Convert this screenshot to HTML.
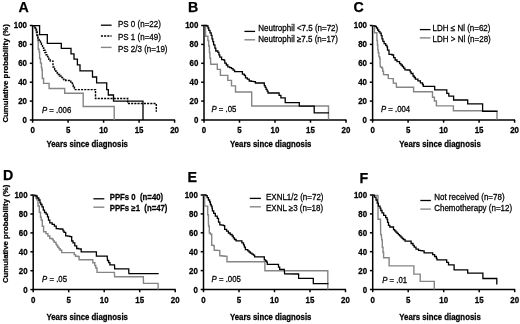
<!DOCTYPE html><html><head><meta charset="utf-8"><style>
html,body{margin:0;padding:0;background:#fff;width:520px;height:324px;overflow:hidden}
svg{display:block;filter:blur(0.4px)} text{font-family:"Liberation Sans", sans-serif;stroke:#000;stroke-width:0.25px}
.ax{stroke:#000;stroke-width:1.5;fill:none}
.tl{font-size:7.9px;font-weight:bold;fill:#000}
.tt{font-size:7.8px;font-weight:bold;fill:#000}
.lg{font-size:8px;fill:#000}
.lgb{font-size:7.8px;font-weight:bold;fill:#000;white-space:pre}
.pv{font-size:7.8px;fill:#000}
.let{font-size:14.2px;font-weight:bold;fill:#000}
.k{stroke:#000;stroke-width:1.3;fill:none}
.g{stroke:#858585;stroke-width:1.4;fill:none}
.d{stroke:#000;stroke-width:1.45;fill:none;stroke-dasharray:2.1 1.1}
</style></head><body>
<svg width="520" height="324" viewBox="0 0 520 324">
<rect width="520" height="324" fill="#fff"/>
<line x1="32.60" y1="25.00" x2="32.60" y2="120.70" class="ax"/>
<line x1="31.90" y1="120.00" x2="175.10" y2="120.00" class="ax"/>
<line x1="29.80" y1="120.00" x2="32.60" y2="120.00" class="ax"/>
<text transform="translate(27.00 122.90) scale(1 1.08)" class="tl" text-anchor="end">0</text>
<line x1="29.80" y1="101.10" x2="32.60" y2="101.10" class="ax"/>
<text transform="translate(27.00 104.00) scale(1 1.08)" class="tl" text-anchor="end">20</text>
<line x1="29.80" y1="82.20" x2="32.60" y2="82.20" class="ax"/>
<text transform="translate(27.00 85.10) scale(1 1.08)" class="tl" text-anchor="end">40</text>
<line x1="29.80" y1="63.30" x2="32.60" y2="63.30" class="ax"/>
<text transform="translate(27.00 66.20) scale(1 1.08)" class="tl" text-anchor="end">60</text>
<line x1="29.80" y1="44.40" x2="32.60" y2="44.40" class="ax"/>
<text transform="translate(27.00 47.30) scale(1 1.08)" class="tl" text-anchor="end">80</text>
<line x1="29.80" y1="25.50" x2="32.60" y2="25.50" class="ax"/>
<text transform="translate(27.00 28.40) scale(1 1.08)" class="tl" text-anchor="end">100</text>
<line x1="32.60" y1="120.00" x2="32.60" y2="122.70" class="ax"/>
<text transform="translate(32.60 132.90) scale(1 1.08)" class="tl" text-anchor="middle">0</text>
<line x1="68.10" y1="120.00" x2="68.10" y2="122.70" class="ax"/>
<text transform="translate(68.10 132.90) scale(1 1.08)" class="tl" text-anchor="middle">5</text>
<line x1="103.60" y1="120.00" x2="103.60" y2="122.70" class="ax"/>
<text transform="translate(103.60 132.90) scale(1 1.08)" class="tl" text-anchor="middle">10</text>
<line x1="139.10" y1="120.00" x2="139.10" y2="122.70" class="ax"/>
<text transform="translate(139.10 132.90) scale(1 1.08)" class="tl" text-anchor="middle">15</text>
<line x1="174.60" y1="120.00" x2="174.60" y2="122.70" class="ax"/>
<text transform="translate(174.60 132.90) scale(1 1.08)" class="tl" text-anchor="middle">20</text>
<line x1="204.00" y1="25.00" x2="204.00" y2="120.70" class="ax"/>
<line x1="203.30" y1="120.00" x2="346.50" y2="120.00" class="ax"/>
<line x1="201.20" y1="120.00" x2="204.00" y2="120.00" class="ax"/>
<text transform="translate(198.40 122.90) scale(1 1.08)" class="tl" text-anchor="end">0</text>
<line x1="201.20" y1="101.10" x2="204.00" y2="101.10" class="ax"/>
<text transform="translate(198.40 104.00) scale(1 1.08)" class="tl" text-anchor="end">20</text>
<line x1="201.20" y1="82.20" x2="204.00" y2="82.20" class="ax"/>
<text transform="translate(198.40 85.10) scale(1 1.08)" class="tl" text-anchor="end">40</text>
<line x1="201.20" y1="63.30" x2="204.00" y2="63.30" class="ax"/>
<text transform="translate(198.40 66.20) scale(1 1.08)" class="tl" text-anchor="end">60</text>
<line x1="201.20" y1="44.40" x2="204.00" y2="44.40" class="ax"/>
<text transform="translate(198.40 47.30) scale(1 1.08)" class="tl" text-anchor="end">80</text>
<line x1="201.20" y1="25.50" x2="204.00" y2="25.50" class="ax"/>
<text transform="translate(198.40 28.40) scale(1 1.08)" class="tl" text-anchor="end">100</text>
<line x1="204.00" y1="120.00" x2="204.00" y2="122.70" class="ax"/>
<text transform="translate(204.00 132.90) scale(1 1.08)" class="tl" text-anchor="middle">0</text>
<line x1="239.50" y1="120.00" x2="239.50" y2="122.70" class="ax"/>
<text transform="translate(239.50 132.90) scale(1 1.08)" class="tl" text-anchor="middle">5</text>
<line x1="275.00" y1="120.00" x2="275.00" y2="122.70" class="ax"/>
<text transform="translate(275.00 132.90) scale(1 1.08)" class="tl" text-anchor="middle">10</text>
<line x1="310.50" y1="120.00" x2="310.50" y2="122.70" class="ax"/>
<text transform="translate(310.50 132.90) scale(1 1.08)" class="tl" text-anchor="middle">15</text>
<line x1="346.00" y1="120.00" x2="346.00" y2="122.70" class="ax"/>
<text transform="translate(346.00 132.90) scale(1 1.08)" class="tl" text-anchor="middle">20</text>
<line x1="372.60" y1="25.00" x2="372.60" y2="120.70" class="ax"/>
<line x1="371.90" y1="120.00" x2="515.10" y2="120.00" class="ax"/>
<line x1="369.80" y1="120.00" x2="372.60" y2="120.00" class="ax"/>
<text transform="translate(367.00 122.90) scale(1 1.08)" class="tl" text-anchor="end">0</text>
<line x1="369.80" y1="101.10" x2="372.60" y2="101.10" class="ax"/>
<text transform="translate(367.00 104.00) scale(1 1.08)" class="tl" text-anchor="end">20</text>
<line x1="369.80" y1="82.20" x2="372.60" y2="82.20" class="ax"/>
<text transform="translate(367.00 85.10) scale(1 1.08)" class="tl" text-anchor="end">40</text>
<line x1="369.80" y1="63.30" x2="372.60" y2="63.30" class="ax"/>
<text transform="translate(367.00 66.20) scale(1 1.08)" class="tl" text-anchor="end">60</text>
<line x1="369.80" y1="44.40" x2="372.60" y2="44.40" class="ax"/>
<text transform="translate(367.00 47.30) scale(1 1.08)" class="tl" text-anchor="end">80</text>
<line x1="369.80" y1="25.50" x2="372.60" y2="25.50" class="ax"/>
<text transform="translate(367.00 28.40) scale(1 1.08)" class="tl" text-anchor="end">100</text>
<line x1="372.60" y1="120.00" x2="372.60" y2="122.70" class="ax"/>
<text transform="translate(372.60 132.90) scale(1 1.08)" class="tl" text-anchor="middle">0</text>
<line x1="408.10" y1="120.00" x2="408.10" y2="122.70" class="ax"/>
<text transform="translate(408.10 132.90) scale(1 1.08)" class="tl" text-anchor="middle">5</text>
<line x1="443.60" y1="120.00" x2="443.60" y2="122.70" class="ax"/>
<text transform="translate(443.60 132.90) scale(1 1.08)" class="tl" text-anchor="middle">10</text>
<line x1="479.10" y1="120.00" x2="479.10" y2="122.70" class="ax"/>
<text transform="translate(479.10 132.90) scale(1 1.08)" class="tl" text-anchor="middle">15</text>
<line x1="514.60" y1="120.00" x2="514.60" y2="122.70" class="ax"/>
<text transform="translate(514.60 132.90) scale(1 1.08)" class="tl" text-anchor="middle">20</text>
<line x1="33.20" y1="194.60" x2="33.20" y2="290.30" class="ax"/>
<line x1="32.50" y1="289.60" x2="175.70" y2="289.60" class="ax"/>
<line x1="30.40" y1="289.60" x2="33.20" y2="289.60" class="ax"/>
<text transform="translate(27.60 292.90) scale(1 1.08)" class="tl" text-anchor="end">0</text>
<line x1="30.40" y1="270.70" x2="33.20" y2="270.70" class="ax"/>
<text transform="translate(27.60 274.00) scale(1 1.08)" class="tl" text-anchor="end">20</text>
<line x1="30.40" y1="251.80" x2="33.20" y2="251.80" class="ax"/>
<text transform="translate(27.60 255.10) scale(1 1.08)" class="tl" text-anchor="end">40</text>
<line x1="30.40" y1="232.90" x2="33.20" y2="232.90" class="ax"/>
<text transform="translate(27.60 236.20) scale(1 1.08)" class="tl" text-anchor="end">60</text>
<line x1="30.40" y1="214.00" x2="33.20" y2="214.00" class="ax"/>
<text transform="translate(27.60 217.30) scale(1 1.08)" class="tl" text-anchor="end">80</text>
<line x1="30.40" y1="195.10" x2="33.20" y2="195.10" class="ax"/>
<text transform="translate(27.60 198.40) scale(1 1.08)" class="tl" text-anchor="end">100</text>
<line x1="33.20" y1="289.60" x2="33.20" y2="292.30" class="ax"/>
<text transform="translate(33.20 302.90) scale(1 1.08)" class="tl" text-anchor="middle">0</text>
<line x1="68.70" y1="289.60" x2="68.70" y2="292.30" class="ax"/>
<text transform="translate(68.70 302.90) scale(1 1.08)" class="tl" text-anchor="middle">5</text>
<line x1="104.20" y1="289.60" x2="104.20" y2="292.30" class="ax"/>
<text transform="translate(104.20 302.90) scale(1 1.08)" class="tl" text-anchor="middle">10</text>
<line x1="139.70" y1="289.60" x2="139.70" y2="292.30" class="ax"/>
<text transform="translate(139.70 302.90) scale(1 1.08)" class="tl" text-anchor="middle">15</text>
<line x1="175.20" y1="289.60" x2="175.20" y2="292.30" class="ax"/>
<text transform="translate(175.20 302.90) scale(1 1.08)" class="tl" text-anchor="middle">20</text>
<line x1="203.50" y1="194.50" x2="203.50" y2="290.20" class="ax"/>
<line x1="202.80" y1="289.50" x2="346.00" y2="289.50" class="ax"/>
<line x1="200.70" y1="289.50" x2="203.50" y2="289.50" class="ax"/>
<text transform="translate(197.90 292.80) scale(1 1.08)" class="tl" text-anchor="end">0</text>
<line x1="200.70" y1="270.60" x2="203.50" y2="270.60" class="ax"/>
<text transform="translate(197.90 273.90) scale(1 1.08)" class="tl" text-anchor="end">20</text>
<line x1="200.70" y1="251.70" x2="203.50" y2="251.70" class="ax"/>
<text transform="translate(197.90 255.00) scale(1 1.08)" class="tl" text-anchor="end">40</text>
<line x1="200.70" y1="232.80" x2="203.50" y2="232.80" class="ax"/>
<text transform="translate(197.90 236.10) scale(1 1.08)" class="tl" text-anchor="end">60</text>
<line x1="200.70" y1="213.90" x2="203.50" y2="213.90" class="ax"/>
<text transform="translate(197.90 217.20) scale(1 1.08)" class="tl" text-anchor="end">80</text>
<line x1="200.70" y1="195.00" x2="203.50" y2="195.00" class="ax"/>
<text transform="translate(197.90 198.30) scale(1 1.08)" class="tl" text-anchor="end">100</text>
<line x1="203.50" y1="289.50" x2="203.50" y2="292.20" class="ax"/>
<text transform="translate(203.50 302.80) scale(1 1.08)" class="tl" text-anchor="middle">0</text>
<line x1="239.00" y1="289.50" x2="239.00" y2="292.20" class="ax"/>
<text transform="translate(239.00 302.80) scale(1 1.08)" class="tl" text-anchor="middle">5</text>
<line x1="274.50" y1="289.50" x2="274.50" y2="292.20" class="ax"/>
<text transform="translate(274.50 302.80) scale(1 1.08)" class="tl" text-anchor="middle">10</text>
<line x1="310.00" y1="289.50" x2="310.00" y2="292.20" class="ax"/>
<text transform="translate(310.00 302.80) scale(1 1.08)" class="tl" text-anchor="middle">15</text>
<line x1="345.50" y1="289.50" x2="345.50" y2="292.20" class="ax"/>
<text transform="translate(345.50 302.80) scale(1 1.08)" class="tl" text-anchor="middle">20</text>
<line x1="372.70" y1="194.50" x2="372.70" y2="290.20" class="ax"/>
<line x1="372.00" y1="289.50" x2="515.20" y2="289.50" class="ax"/>
<line x1="369.90" y1="289.50" x2="372.70" y2="289.50" class="ax"/>
<text transform="translate(367.10 292.80) scale(1 1.08)" class="tl" text-anchor="end">0</text>
<line x1="369.90" y1="270.60" x2="372.70" y2="270.60" class="ax"/>
<text transform="translate(367.10 273.90) scale(1 1.08)" class="tl" text-anchor="end">20</text>
<line x1="369.90" y1="251.70" x2="372.70" y2="251.70" class="ax"/>
<text transform="translate(367.10 255.00) scale(1 1.08)" class="tl" text-anchor="end">40</text>
<line x1="369.90" y1="232.80" x2="372.70" y2="232.80" class="ax"/>
<text transform="translate(367.10 236.10) scale(1 1.08)" class="tl" text-anchor="end">60</text>
<line x1="369.90" y1="213.90" x2="372.70" y2="213.90" class="ax"/>
<text transform="translate(367.10 217.20) scale(1 1.08)" class="tl" text-anchor="end">80</text>
<line x1="369.90" y1="195.00" x2="372.70" y2="195.00" class="ax"/>
<text transform="translate(367.10 198.30) scale(1 1.08)" class="tl" text-anchor="end">100</text>
<line x1="372.70" y1="289.50" x2="372.70" y2="292.20" class="ax"/>
<text transform="translate(372.70 302.80) scale(1 1.08)" class="tl" text-anchor="middle">0</text>
<line x1="408.20" y1="289.50" x2="408.20" y2="292.20" class="ax"/>
<text transform="translate(408.20 302.80) scale(1 1.08)" class="tl" text-anchor="middle">5</text>
<line x1="443.70" y1="289.50" x2="443.70" y2="292.20" class="ax"/>
<text transform="translate(443.70 302.80) scale(1 1.08)" class="tl" text-anchor="middle">10</text>
<line x1="479.20" y1="289.50" x2="479.20" y2="292.20" class="ax"/>
<text transform="translate(479.20 302.80) scale(1 1.08)" class="tl" text-anchor="middle">15</text>
<line x1="514.70" y1="289.50" x2="514.70" y2="292.20" class="ax"/>
<text transform="translate(514.70 302.80) scale(1 1.08)" class="tl" text-anchor="middle">20</text>
<text transform="translate(18.6 11.7) scale(1 1.0)" class="let">A</text>
<text transform="translate(188.0 11.7) scale(1 1.0)" class="let">B</text>
<text transform="translate(353.6 12.1) scale(1 1.0)" class="let">C</text>
<text transform="translate(3.1 179.6) scale(1 1.0)" class="let">D</text>
<text transform="translate(187.5 182.2) scale(1 1.0)" class="let">E</text>
<text transform="translate(359.4 182.7) scale(1 1.0)" class="let">F</text>
<text x="0" y="0" class="tt" text-anchor="middle" transform="translate(7.7,73.4) rotate(-90)">Cumulative probability (%)</text>
<text x="0" y="0" class="tt" text-anchor="middle" transform="translate(7.9,233.9) rotate(-90)">Cumulative probability (%)</text>
<text transform="translate(46.5 147.3) scale(1 1.08)" class="tt">Years since diagnosis</text>
<text transform="translate(230.0 147.2) scale(1 1.08)" class="tt">Years since diagnosis</text>
<text transform="translate(399.3 147.2) scale(1 1.08)" class="tt">Years since diagnosis</text>
<text transform="translate(46.5 319.8) scale(1 1.08)" class="tt">Years since diagnosis</text>
<text transform="translate(230.0 319.9) scale(1 1.08)" class="tt">Years since diagnosis</text>
<text transform="translate(399.3 319.6) scale(1 1.08)" class="tt">Years since diagnosis</text>
<text transform="translate(42.0 113.4) scale(1 1.08)" class="pv"><tspan font-style="italic">P</tspan> = .006</text>
<text transform="translate(211.5 112.3) scale(1 1.08)" class="pv"><tspan font-style="italic">P</tspan> = .05</text>
<text transform="translate(380.9 112.4) scale(1 1.08)" class="pv"><tspan font-style="italic">P</tspan> = .004</text>
<text transform="translate(42.1 281.8) scale(1 1.08)" class="pv"><tspan font-style="italic">P</tspan> = .05</text>
<text transform="translate(211.6 281.8) scale(1 1.08)" class="pv"><tspan font-style="italic">P</tspan> = .005</text>
<text transform="translate(382.2 283.0) scale(1 1.08)" class="pv"><tspan font-style="italic">P</tspan> = .01</text>
<line x1="100.9" y1="25.2" x2="111.6" y2="25.2" class="k"/>
<text transform="translate(118.0 27.1) scale(1 1.08)" class="lg">PS 0 (n=22)</text>
<line x1="100.9" y1="36.0" x2="111.6" y2="36.0" class="d"/>
<text transform="translate(118.0 39.5) scale(1 1.08)" class="lg">PS 1 (n=49)</text>
<line x1="100.9" y1="47.4" x2="111.6" y2="47.4" class="g"/>
<text transform="translate(118.0 51.6) scale(1 1.08)" class="lg">PS 2/3 (n=19)</text>
<line x1="244.4" y1="31.4" x2="255.1" y2="31.4" class="k"/>
<text transform="translate(258.3 31.1) scale(1 1.08)" class="lg">Neutrophil &lt;7.5 (n=72)</text>
<line x1="244.4" y1="39.8" x2="255.1" y2="39.8" class="g"/>
<text transform="translate(258.3 42.1) scale(1 1.08)" class="lg">Neutrophil ≥7.5 (n=17)</text>
<line x1="419.8" y1="29.6" x2="430.5" y2="29.6" class="k"/>
<text transform="translate(432.6 31.0) scale(1 1.08)" class="lg">LDH ≤ Nl (n=62)</text>
<line x1="419.8" y1="37.9" x2="430.5" y2="37.9" class="g"/>
<text transform="translate(432.6 42.0) scale(1 1.08)" class="lg">LDH &gt; Nl (n=28)</text>
<line x1="93.4" y1="198.8" x2="104.3" y2="198.8" class="k"/>
<text transform="translate(109.7 199.7) scale(1 1.08)" class="lgb">PPFs 0  (n=40)</text>
<line x1="93.4" y1="207.2" x2="104.3" y2="207.2" class="g"/>
<text transform="translate(109.7 211.2) scale(1 1.08)" class="lgb">PPFs ≥1  (n=47)</text>
<line x1="249.8" y1="198.4" x2="260.9" y2="198.4" class="k"/>
<text transform="translate(266.0 200.3) scale(1 1.08)" class="lg">EXNL1/2 (n=72)</text>
<line x1="249.8" y1="206.8" x2="260.9" y2="206.8" class="g"/>
<text transform="translate(266.0 211.0) scale(1 1.08)" class="lg">EXNL ≥3 (n=18)</text>
<line x1="420.3" y1="200.5" x2="430.9" y2="200.5" class="k"/>
<text transform="translate(434.2 200.0) scale(1 1.08)" class="lg">Not received (n=78)</text>
<line x1="420.3" y1="209.1" x2="430.9" y2="209.1" class="g"/>
<text transform="translate(434.2 211.1) scale(1 1.08)" class="lg">Chemotherapy (n=12)</text>
<polyline points="32.8,25.6 34.5,25.6 34.5,27.5 35.6,27.5 35.6,30.5 36.6,30.5 36.6,35.5 37.6,35.5 37.6,40.5 38.2,40.5 38.2,49.3 39.1,49.3 39.1,52.0 39.6,52.0 39.6,58.5 40.5,58.5 40.5,63.1 41.4,63.1 41.4,67.8 41.9,67.8 41.9,70.0 42.3,70.0 42.3,78.5 43.6,78.5 43.6,83.4 49.1,83.4 49.1,88.5 64.7,88.5 64.7,93.3 83.2,93.3 83.2,106.5 114.2,106.5 114.2,120.0" class="g"/>
<polyline points="33.0,25.6 34.1,25.6 34.1,27.4 35.2,27.4 35.2,29.2 36.4,29.2 36.4,32.0 37.2,32.0 37.2,35.3 38.0,35.3 38.0,38.1 39.1,38.1 39.1,40.2 40.4,40.2 40.4,43.3 41.4,43.3 41.4,45.6 42.5,45.6 42.5,47.9 43.7,47.9 43.7,50.2 44.9,50.2 44.9,52.5 46.0,52.5 46.0,54.8 46.9,54.8 46.9,56.5 47.9,56.5 47.9,58.2 48.8,58.2 48.8,59.9 50.2,59.9 50.2,61.1 53.0,61.1 53.0,66.9 54.7,66.9 54.7,69.8 55.9,69.8 55.9,71.3 57.2,71.3 57.2,72.9 58.4,72.9 58.4,74.5 59.6,74.5 59.6,76.0 61.0,76.0 61.0,77.5 62.5,77.5 62.5,79.1 64.0,79.1 64.0,79.8 65.6,79.8 65.6,80.4 69.3,80.4 70.8,80.4 70.8,82.0 72.3,82.0 72.3,83.5 73.3,83.5 73.3,86.5 74.4,86.5 74.4,89.6 94.5,89.6 95.5,89.6 95.5,98.5 127.7,98.5 127.7,103.5 156.3,103.5 156.3,111.7" class="d"/>
<polyline points="32.6,25.6 39.6,25.6 39.6,34.6 47.3,34.6 47.3,43.4 61.3,43.4 61.3,48.4 71.0,48.4 71.0,53.8 74.0,53.8 74.0,59.1 77.4,59.1 77.4,64.8 80.0,64.8 80.0,70.8 92.5,70.8 92.5,77.0 96.6,77.0 96.6,82.8 106.7,82.8 106.7,89.6 108.3,89.6 108.3,95.0 113.5,95.0 113.5,101.2 143.0,101.2 143.0,120.0" class="k"/>
<polyline points="204.0,25.4 205.5,25.4 205.5,36.3 207.3,36.3 207.9,36.3 207.9,40.5 208.7,40.5 208.7,46.0 209.4,46.0 209.4,52.5 209.9,52.5 209.9,58.1 210.6,58.1 210.6,63.3 210.8,64.3 217.3,64.3 217.3,69.4 220.4,69.4 220.4,75.4 227.8,75.4 227.8,80.4 231.5,80.4 231.5,85.9 235.5,85.9 235.5,92.0 251.7,92.0 251.7,106.0 328.5,106.0 328.5,119.5" class="g"/>
<polyline points="204.0,25.4 205.5,25.5 206.8,25.5 206.8,26.0 208.0,26.0 208.0,28.0 208.8,28.0 208.8,30.4 210.0,30.4 210.0,32.8 211.2,32.8 211.2,35.3 212.0,35.3 212.0,38.9 212.8,38.9 212.8,41.7 213.6,41.7 213.6,44.9 214.9,44.9 214.9,48.1 215.8,48.1 215.8,51.0 217.9,51.0 217.9,52.3 218.9,52.3 218.9,54.8 219.8,54.8 219.8,57.2 221.6,57.2 221.6,59.7 224.1,59.7 224.1,60.3 224.8,60.3 224.8,63.1 226.3,63.1 226.3,65.0 227.8,65.0 227.8,66.8 229.7,66.8 229.7,67.7 231.5,67.7 231.5,68.6 233.1,68.6 233.1,70.2 234.6,70.2 234.6,71.7 241.2,71.7 242.4,71.7 242.4,74.2 244.3,74.2 244.3,75.4 245.5,75.4 245.5,77.9 247.3,77.9 247.3,79.1 249.2,79.1 249.2,81.0 251.3,81.0 251.3,81.3 253.5,81.3 253.5,81.6 255.4,81.6 255.4,83.0 263.0,83.0 264.3,83.0 264.3,85.6 265.2,85.6 265.2,87.4 266.1,87.4 266.1,89.3 267.1,89.3 267.1,91.2 268.0,91.2 268.0,93.0 277.8,93.0 279.1,93.0 279.1,95.4 280.9,95.4 280.9,97.9 285.2,97.9 285.2,102.6 299.3,102.6 299.3,106.1 314.2,106.1 314.2,112.9 329.0,112.9" class="k"/>
<polyline points="372.6,25.6 374.4,25.8 374.4,32.7 376.2,32.7 376.9,32.7 376.9,40.4 377.4,40.4 377.4,45.0 377.8,45.0 377.8,49.6 378.2,49.6 378.2,52.7 378.9,52.7 378.9,56.6 379.7,56.6 379.7,58.5 380.1,58.5 380.1,65.1 380.4,67.0 381.9,67.0 381.9,68.2 382.7,68.2 382.7,71.3 383.5,71.3 383.5,74.5 387.7,74.7 388.3,74.7 388.3,78.4 392.7,78.6 393.3,78.6 393.3,83.0 396.2,83.2 396.5,87.2 413.6,87.2 413.6,91.7 432.5,91.7 432.5,97.3 434.4,97.3 434.4,101.0 436.4,101.0 436.4,105.9 453.4,105.9 453.4,110.8 482.6,110.8 497.0,111.0 497.0,119.6" class="g"/>
<polyline points="372.6,25.6 374.0,25.8 375.2,25.8 375.2,26.4 376.4,26.4 376.4,28.0 377.6,28.0 377.6,30.0 378.8,30.0 378.8,31.6 380.0,31.6 380.0,33.2 381.2,33.2 381.2,35.7 382.0,35.7 382.0,38.9 382.9,38.9 382.9,41.3 384.1,41.3 384.1,43.7 385.7,43.7 385.7,45.3 386.9,45.3 386.9,46.8 387.5,46.8 387.5,50.2 389.0,50.2 389.0,54.3 392.1,54.3 392.1,55.0 393.6,55.0 393.6,57.7 395.1,57.7 395.1,60.0 397.0,60.0 397.0,61.6 399.6,61.6 399.6,63.6 401.0,63.6 401.0,65.0 402.3,65.0 402.3,66.5 403.6,66.5 403.6,68.2 404.9,68.2 404.9,69.8 407.1,69.8 407.1,70.0 409.3,70.0 409.3,70.2 410.2,70.2 410.2,71.8 411.1,71.8 411.1,73.5 413.0,73.5 413.0,76.0 414.2,76.0 414.2,77.5 415.4,77.5 415.4,79.1 417.9,79.1 417.9,80.9 420.4,80.9 420.4,82.8 422.5,82.8 422.5,84.5 423.3,84.5 423.3,86.4 434.7,86.4 434.7,89.8 446.8,89.8 446.8,93.3 448.8,93.3 448.8,96.2 453.6,96.2 453.6,100.0 467.7,100.0 467.7,103.8 482.6,103.8 482.6,111.4 497.5,111.4" class="k"/>
<polyline points="33.2,195.2 34.9,195.2 34.9,196.2 35.8,196.2 35.8,198.1 36.8,198.1 36.8,199.9 38.0,199.9 38.0,206.0 39.3,206.0 39.3,212.2 40.5,212.2 40.5,217.2 41.2,217.2 41.2,220.0 42.3,220.0 42.3,226.2 43.6,226.2 43.6,231.7 46.0,231.7 46.0,233.6 47.9,233.6 47.9,236.0 49.8,236.0 49.8,238.5 52.2,238.5 52.2,239.1 53.2,239.1 53.2,240.6 54.1,240.6 54.1,242.2 55.9,242.2 55.9,244.1 56.8,244.1 56.8,245.6 57.8,245.6 57.8,247.2 59.0,247.2 59.0,248.7 60.2,248.7 60.2,250.2 61.7,250.2 61.7,252.6 72.3,252.6 74.2,252.6 74.2,254.6 75.5,254.6 75.5,256.3 78.5,256.3 78.5,256.7 79.1,256.7 79.1,259.7 92.8,259.7 92.8,262.8 94.8,262.8 94.8,265.5 95.8,265.5 95.8,268.0 97.0,268.0 97.0,272.4 114.4,272.4 114.6,276.7 143.3,276.7 143.5,283.4 158.1,283.4 158.1,289.5" class="g"/>
<polyline points="33.2,195.2 35.0,195.4 36.0,195.4 36.0,196.0 37.2,196.0 37.2,198.0 38.8,198.0 38.8,200.0 40.0,200.0 40.0,202.8 40.8,202.8 40.8,204.5 42.0,204.5 42.0,206.9 43.3,206.9 43.3,210.1 44.5,210.1 44.5,212.5 46.1,212.5 46.1,214.1 47.5,214.1 47.5,216.8 48.5,216.8 48.5,220.2 49.8,220.2 49.8,222.8 52.2,222.8 52.2,224.4 54.4,224.4 54.4,226.2 56.2,226.2 56.2,228.6 58.2,228.6 58.2,228.8 60.1,228.8 60.1,229.0 62.1,229.0 62.1,229.2 63.0,229.2 63.0,230.8 64.0,230.8 64.0,232.3 65.7,232.3 65.7,235.8 67.8,235.8 67.8,236.2 69.9,236.2 69.9,236.6 71.7,236.6 71.7,241.0 73.0,241.0 73.0,242.8 74.8,242.8 74.8,245.9 76.7,245.9 76.7,248.5 78.6,248.5 78.6,248.8 80.5,248.8 80.5,249.0 81.2,249.0 81.2,251.9 96.0,251.9 96.4,251.9 96.4,256.1 107.2,256.1 107.5,260.5 108.7,260.5 108.7,262.6 109.9,262.6 109.9,264.8 114.5,264.8 114.7,268.8 128.7,268.8 128.9,273.7 158.7,273.7" class="k"/>
<polyline points="203.5,195.5 204.6,195.5 204.6,196.2 204.6,206.1 207.1,206.1 207.7,206.1 207.7,214.7 208.4,214.7 208.4,222.1 208.6,226.2 209.3,226.2 209.3,233.0 210.5,233.0 210.5,234.2 211.7,234.2 211.7,245.3 213.6,245.3 213.6,245.9 214.2,245.9 214.2,250.2 216.6,250.2 216.6,250.4 219.1,250.4 219.1,250.6 219.8,250.6 219.8,255.8 222.0,255.8 222.0,256.0 224.3,256.0 224.3,256.2 226.5,256.2 226.5,256.4 227.0,256.4 227.0,261.7 264.9,261.7 264.9,270.8 327.8,270.8 327.8,289.4" class="g"/>
<polyline points="203.5,194.8 205.0,195.0 206.0,195.0 206.0,195.6 207.2,195.6 207.2,197.6 208.4,197.6 208.4,200.0 209.6,200.0 209.6,202.0 210.4,202.0 210.4,204.5 211.2,204.5 211.2,206.1 212.0,206.1 212.0,208.1 212.4,208.1 212.4,210.9 213.7,210.9 213.7,213.3 215.3,213.3 215.3,216.1 217.3,216.1 217.3,218.3 218.5,218.3 218.5,222.1 219.8,222.1 219.8,224.9 221.7,224.9 221.7,225.2 223.5,225.2 223.5,225.6 224.7,225.6 224.7,229.3 226.6,229.3 226.6,231.2 228.4,231.2 228.4,233.0 230.2,233.0 230.2,234.5 232.1,234.5 232.1,236.0 233.3,236.0 233.3,237.8 234.5,237.8 234.5,239.5 236.1,239.5 236.1,240.8 240.4,240.8 241.9,240.8 241.9,242.8 243.5,242.8 243.5,244.8 244.4,244.8 244.4,247.2 245.4,247.2 245.4,249.7 247.8,249.7 247.8,250.9 249.1,250.9 249.1,252.0 250.3,252.0 250.3,253.1 251.9,253.1 251.9,254.1 253.4,254.1 253.4,255.2 254.6,255.2 254.6,256.8 263.0,256.8 264.3,256.8 264.3,259.8 265.5,259.8 265.5,261.0 266.7,261.0 266.7,262.2 267.3,262.2 267.3,264.4 277.2,264.4 278.5,264.4 278.5,267.2 279.7,267.2 279.7,269.4 284.3,269.4 284.6,273.8 298.6,274.0 298.6,278.3 313.3,278.3 313.3,283.7 328.5,283.7" class="k"/>
<polyline points="372.7,195.4 378.0,195.4 378.0,219.2 380.5,219.2 380.7,234.6 381.4,234.6 381.4,236.0 381.7,239.9 382.3,239.9 382.3,247.3 383.0,247.3 383.0,252.3 383.6,252.3 383.6,257.8 389.1,257.8 389.1,265.9 413.9,265.9 413.9,274.1 420.2,274.1 420.2,281.4 434.3,281.4 434.3,289.4" class="g"/>
<polyline points="372.7,195.2 374.4,195.2 374.4,197.2 376.0,197.2 376.0,200.0 377.2,200.0 377.2,203.2 378.4,203.2 378.4,206.1 380.0,206.1 380.0,208.1 380.8,208.1 380.8,210.5 382.0,210.5 382.0,212.9 383.7,212.9 383.7,215.3 385.7,215.3 385.7,217.7 387.0,217.7 387.0,219.5 387.6,219.5 387.6,222.3 388.5,222.3 388.5,225.4 389.8,225.4 389.8,227.0 392.2,227.0 393.5,227.0 393.5,229.7 394.7,229.7 394.7,230.9 395.9,230.9 395.9,232.2 397.1,232.2 397.1,233.4 398.4,233.4 398.4,234.6 399.6,234.6 399.6,235.9 400.9,235.9 400.9,237.2 402.1,237.2 402.1,238.3 403.3,238.3 403.3,239.5 405.0,239.5 405.0,241.1 409.3,241.1 411.1,241.1 411.1,243.5 413.0,243.5 413.0,245.4 414.2,245.4 414.2,247.2 416.0,247.2 416.0,249.1 418.5,249.1 418.5,250.3 420.4,250.3 420.4,250.6 422.2,250.6 422.2,250.9 424.1,250.9 424.1,252.8 430.9,252.8 432.7,252.8 432.7,254.6 434.6,254.6 434.6,256.5 436.4,256.5 436.4,258.3 437.0,258.3 437.0,259.8 445.4,259.8 446.7,259.8 446.7,262.3 448.5,262.3 448.5,264.8 453.5,264.8 454.1,264.8 454.1,269.8 467.3,269.8 467.7,269.8 467.7,273.2 482.9,273.2 482.9,278.5 496.8,278.5 496.8,284.6" class="k"/>
</svg></body></html>
